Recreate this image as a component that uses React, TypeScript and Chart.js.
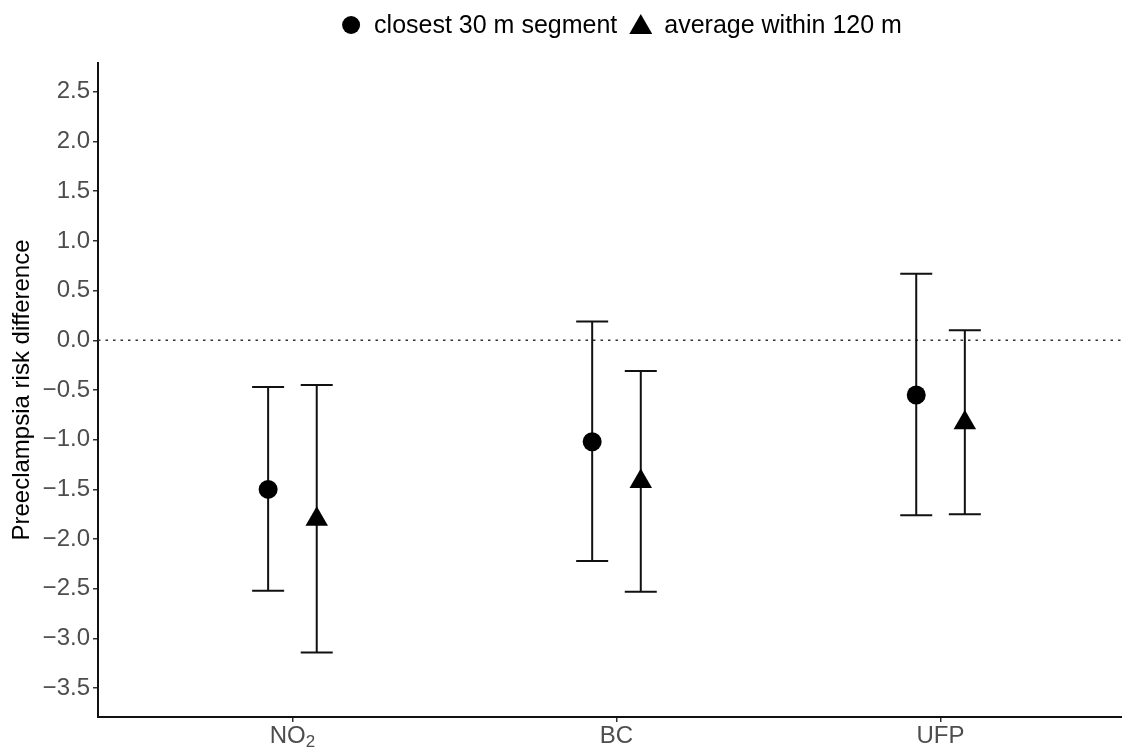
import React, { useEffect, useRef } from "react";
import { Chart, registerables } from "chart.js";

Chart.register(...registerables);

// ---- data ----
const categories = ["NO₂", "BC", "UFP"];
const seriesLabels = ["closest 30 m segment", "average within 120 m"];

const closestEst = [-1.5, -1.02, -0.55];
const closestLow = [-2.52, -2.22, -1.76];
const closestHigh = [-0.47, 0.19, 0.67];

const avgEst = [-1.8, -1.42, -0.83];
const avgLow = [-3.14, -2.53, -1.75];
const avgHigh = [-0.45, -0.31, 0.1];

const yTicks = [-3.5, -3.0, -2.5, -2.0, -1.5, -1.0, -0.5, 0.0, 0.5, 1.0, 1.5, 2.0, 2.5];
const xTicks = [1, 2, 3];

const DODGE = 0.075;
const FONT = '"Liberation Sans", Arial, Helvetica, sans-serif';
const SUBS: Record<string, string> = { "₀": "0", "₁": "1", "₂": "2", "₃": "3", "₄": "4", "₅": "5" };

const errorBarPlugin = {
  id: "errorBars",
  beforeDatasetsDraw(chart: any) {
    const { ctx, chartArea, scales } = chart;
    const y0 = scales.y.getPixelForValue(0);
    ctx.save();
    ctx.strokeStyle = "#333333";
    ctx.lineWidth = 1.5;
    ctx.setLineDash([2.5, 5]);
    ctx.beginPath();
    ctx.moveTo(chartArea.left, y0);
    ctx.lineTo(chartArea.right, y0);
    ctx.stroke();
    ctx.setLineDash([]);

    ctx.strokeStyle = "#111111";
    ctx.lineWidth = 2;
    chart.data.datasets.forEach((ds: any) => {
      ds.data.forEach((pt: any, i: number) => {
        const x = scales.x.getPixelForValue(pt.x);
        const yl = scales.y.getPixelForValue(ds.low[i]);
        const yh = scales.y.getPixelForValue(ds.high[i]);
        const hw = 16;
        ctx.beginPath();
        ctx.moveTo(x, yl);
        ctx.lineTo(x, yh);
        ctx.moveTo(x - hw, yl);
        ctx.lineTo(x + hw, yl);
        ctx.moveTo(x - hw, yh);
        ctx.lineTo(x + hw, yh);
        ctx.stroke();
      });
    });
    ctx.restore();
  },
};

const xLabelPlugin = {
  id: "xLabels",
  afterDraw(chart: any) {
    const { ctx, chartArea, scales } = chart;
    ctx.save();
    ctx.fillStyle = "#4d4d4d";
    ctx.textBaseline = "alphabetic";
    const base = chartArea.bottom + 26;
    xTicks.forEach((v, i) => {
      const label = categories[i];
      const segs: { t: string; sub: boolean }[] = [];
      for (const ch of label) {
        const sub = ch in SUBS;
        const t = sub ? SUBS[ch] : ch;
        const last = segs[segs.length - 1];
        if (last && last.sub === sub) last.t += t;
        else segs.push({ t, sub });
      }
      const widths = segs.map((s) => {
        ctx.font = `${s.sub ? 17 : 24}px ${FONT}`;
        return ctx.measureText(s.t).width;
      });
      const total = widths.reduce((a, b) => a + b, 0);
      let x = scales.x.getPixelForValue(v) - total / 2;
      ctx.textAlign = "left";
      segs.forEach((s, k) => {
        ctx.font = `${s.sub ? 17 : 24}px ${FONT}`;
        ctx.fillText(s.t, x, base + (s.sub ? 4 : 0));
        x += widths[k];
      });
    });
    ctx.restore();
  },
};

const legendPlugin = {
  id: "customLegend",
  afterDraw(chart: any) {
    const { ctx } = chart;
    ctx.save();
    ctx.font = `25px ${FONT}`;
    ctx.fillStyle = "#000000";
    ctx.textBaseline = "middle";
    const w1 = ctx.measureText(seriesLabels[0]).width;
    const w2 = ctx.measureText(seriesLabels[1]).width;
    const total = 18 + 14 + w1 + 12 + 23 + 12 + w2;
    let x = 622 - total / 2;
    const y = 25;
    ctx.beginPath();
    ctx.arc(x + 9, y, 9, 0, Math.PI * 2);
    ctx.fill();
    x += 18 + 14;
    ctx.fillText(seriesLabels[0], x, y + 1);
    x += w1 + 12;
    ctx.beginPath();
    ctx.moveTo(x + 11.5, y - 11);
    ctx.lineTo(x + 23, y + 9);
    ctx.lineTo(x, y + 9);
    ctx.closePath();
    ctx.fill();
    x += 23 + 12;
    ctx.fillText(seriesLabels[1], x, y + 1);
    ctx.restore();
  },
};

export default function App() {
  const canvasRef = useRef<HTMLCanvasElement | null>(null);

  useEffect(() => {
    if (!canvasRef.current) return;
    const chart = new Chart(canvasRef.current, {
      type: "scatter",
      data: {
        datasets: [
          {
            label: seriesLabels[0],
            data: closestEst.map((v, i) => ({ x: i + 1 - DODGE, y: v })),
            low: closestLow,
            high: closestHigh,
            pointStyle: "circle",
            pointRadius: 9.5,
            pointHoverRadius: 9.5,
            backgroundColor: "#000000",
            borderColor: "#000000",
            borderWidth: 0,
          } as any,
          {
            label: seriesLabels[1],
            data: avgEst.map((v, i) => ({ x: i + 1 + DODGE, y: v })),
            low: avgLow,
            high: avgHigh,
            pointStyle: "triangle",
            pointRadius: 13,
            pointHoverRadius: 13,
            backgroundColor: "#000000",
            borderColor: "#000000",
            borderWidth: 0,
          } as any,
        ],
      },
      options: {
        animation: false,
        responsive: false,
        events: [],
        layout: { autoPadding: false, padding: { top: 63, left: 0, right: 0, bottom: 0 } },
        plugins: {
          legend: { display: false },
          tooltip: { enabled: false },
        },
        scales: {
          x: {
            type: "linear",
            min: 0.4,
            max: 3.56,
            afterBuildTicks: (scale: any) => {
              scale.ticks = xTicks.map((v) => ({ value: v }));
            },
            afterFit: (scale: any) => {
              scale.height = 32;
            },
            grid: {
              drawOnChartArea: false,
              drawTicks: true,
              tickLength: 5,
              color: "#333333",
              lineWidth: 1.5,
            },
            border: { display: true, color: "#111111", width: 2 },
            ticks: {
              display: false,
              autoSkip: false,
              callback: (v: any) => categories[Math.round(Number(v)) - 1] ?? "",
            },
          },
          y: {
            type: "linear",
            min: -3.79,
            max: 2.79,
            afterBuildTicks: (scale: any) => {
              scale.ticks = yTicks.map((v) => ({ value: v }));
            },
            afterFit: (scale: any) => {
              scale.width = 98;
            },
            grid: {
              drawOnChartArea: false,
              drawTicks: true,
              tickLength: 5,
              color: "#333333",
              lineWidth: 1.5,
            },
            border: { display: true, color: "#111111", width: 2 },
            title: {
              display: true,
              text: "Preeclampsia risk difference",
              color: "#000000",
              font: { family: FONT, size: 24 },
              padding: { top: 8, bottom: 0 },
            },
            ticks: {
              color: "#4d4d4d",
              font: { family: FONT, size: 24 },
              padding: 3,
              autoSkip: false,
              callback: (v: any) => Number(v).toFixed(1).replace("-", "\u2212"),
            },
          },
        },
      },
      plugins: [errorBarPlugin, xLabelPlugin, legendPlugin],
    } as any);
    return () => chart.destroy();
  }, []);

  return (
    <div style={{ position: "absolute", left: 0, top: 0, width: 1122, height: 749, background: "#ffffff" }}>
      <canvas ref={canvasRef} width={1122} height={749} style={{ display: "block" }} />
    </div>
  );
}
